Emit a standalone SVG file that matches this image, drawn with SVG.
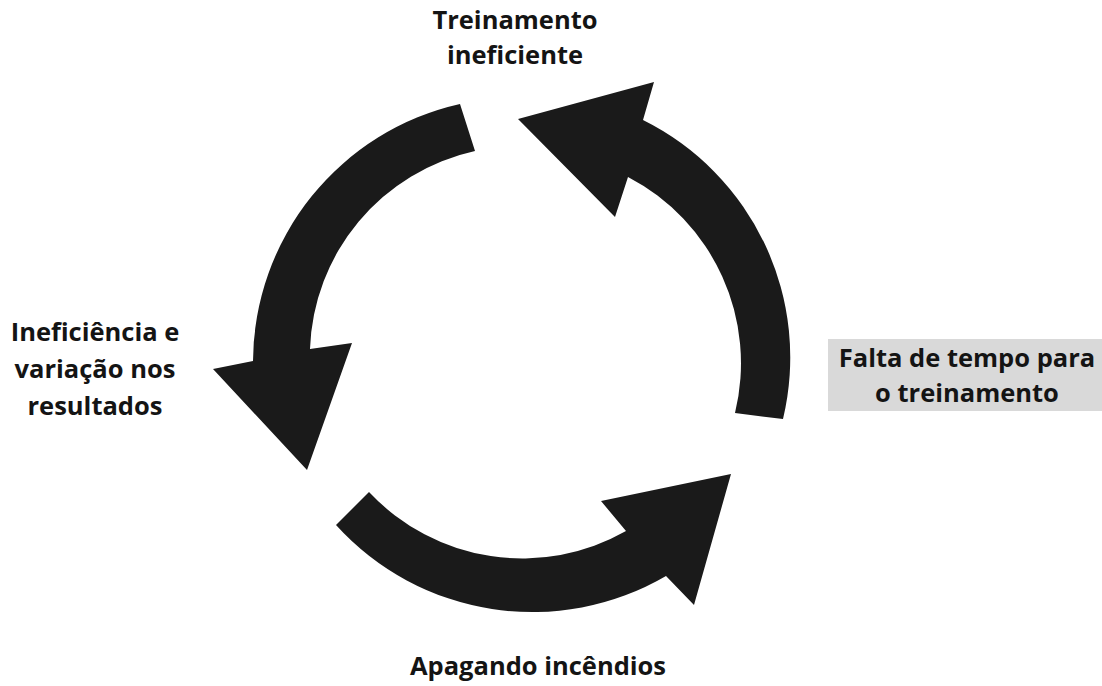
<svg xmlns="http://www.w3.org/2000/svg" width="1102" height="686" viewBox="0 0 1102 686">
  <style>
    .arrow { fill: #1a1a1a; stroke: none; }
    .lbl { font-family: "Open Sans", "Liberation Sans", sans-serif; font-weight: bold; font-size: 25.5px; fill: #141414; text-anchor: middle; }
  </style>
  <rect width="1102" height="686" fill="#ffffff"/>
  <g id="connectors">
    <path id="arrow-right" class="arrow" d="M 783 419 A 265 265 0 0 0 643 120 L 654 82 L 518 119 L 615 217 L 628 177 A 210 210 0 0 1 735 413 Z"/>
    <path id="arrow-left" class="arrow" d="M 460 104 A 265 265 0 0 0 253 361 L 213 369 L 307 470 L 352 343 L 310 349 A 210 210 0 0 1 475 151 Z"/>
    <path id="arrow-bottom" class="arrow" d="M 336 525 A 265 265 0 0 0 666 576 L 694 605 L 731 474 L 601 501 L 626 531 A 210 210 0 0 1 369 492 Z"/>
  </g>
  <g id="node-treinamento">
    <text class="lbl" x="515" y="29">Treinamento</text>
    <text class="lbl" x="515" y="64">ineficiente</text>
  </g>
  <g id="node-falta">
    <rect x="828" y="339" width="274" height="72" fill="#d9d9d9"/>
    <text class="lbl" x="967" y="367">Falta de tempo para</text>
    <text class="lbl" x="967" y="402">o treinamento</text>
  </g>
  <g id="node-apagando">
    <text class="lbl" x="538" y="675">Apagando incêndios</text>
  </g>
  <g id="node-ineficiencia">
    <text class="lbl" x="95" y="341">Ineficiência e</text>
    <text class="lbl" x="95" y="378">variação nos</text>
    <text class="lbl" x="95" y="415">resultados</text>
  </g>
</svg>
